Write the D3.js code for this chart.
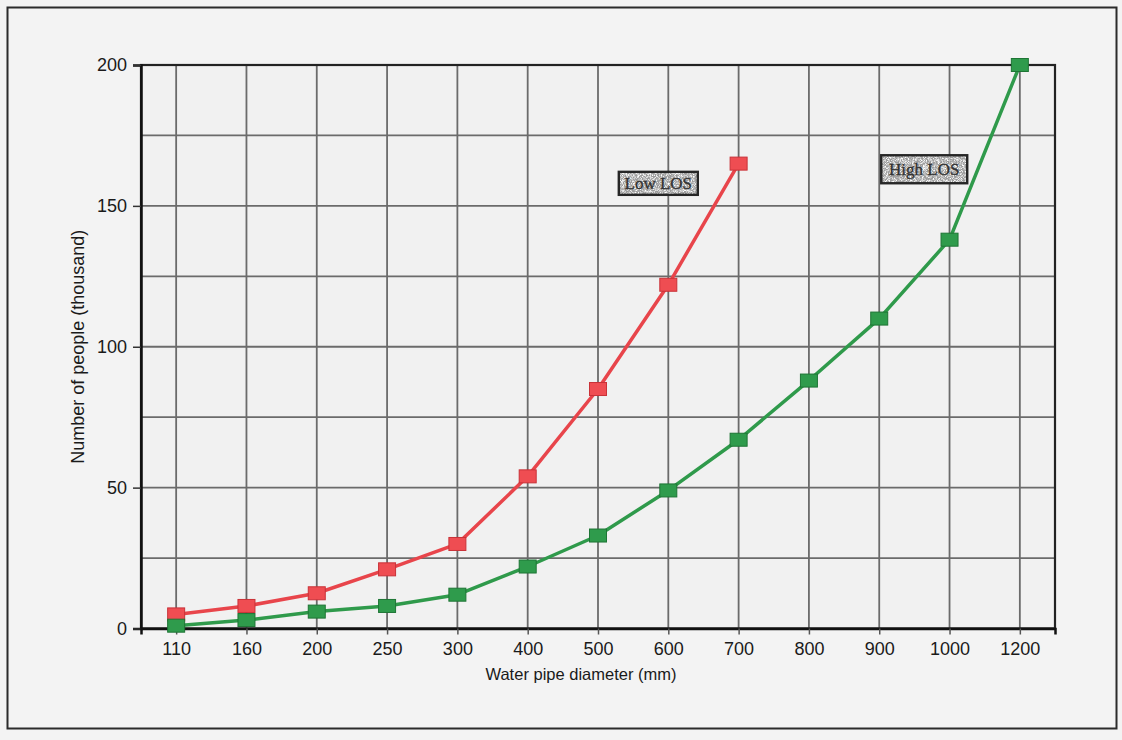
<!DOCTYPE html>
<html>
<head>
<meta charset="utf-8">
<script src="https://cdn.jsdelivr.net/npm/d3@7"></script>
<style>
  html, body { margin: 0; padding: 0; background: #f3f3f3; }
  svg { display: block; }
</style>
</head>
<body>
<svg id="chart" width="1122" height="740"></svg>
<script>
// ---- data ----
const categories = ["110","160","200","250","300","400","500","600","700","800","900","1000","1200"];
const lowLOS  = [5, 8, 12.5, 21, 30, 54, 85, 122, 165];            // 110 .. 700
const highLOS = [1, 3, 6, 8, 12, 22, 33, 49, 67, 88, 110, 138, 200]; // 110 .. 1200
const yTickLabels = [0, 50, 100, 150, 200];
const yGridValues = [0, 25, 50, 75, 100, 125, 150, 175, 200];
const seriesNames = ["Low LOS", "High LOS"];

const svg = d3.select("#chart");
const W = 1122, H = 740;
const plot = { left: 141, right: 1055, top: 65, bottom: 628.5 };

// background + outer frame
svg.append("rect").attr("x", 0).attr("y", 0).attr("width", W).attr("height", H).attr("fill", "#f3f3f3");
svg.append("rect").attr("x", 7.5).attr("y", 7.5).attr("width", 1109).attr("height", 721)
  .attr("fill", "#f3f3f3").attr("stroke", "#2b2b2b").attr("stroke-width", 2);

const x = d3.scalePoint().domain(categories).range([plot.left, plot.right]).padding(0.5);
const y = d3.scaleLinear().domain([0, 200]).range([plot.bottom, plot.top]);

// plot background
svg.append("rect").attr("x", plot.left).attr("y", plot.top)
  .attr("width", plot.right - plot.left).attr("height", plot.bottom - plot.top)
  .attr("fill", "#f1f1f1");

// grid
const grid = svg.append("g");
grid.selectAll("line.h").data(yGridValues).join("line")
  .attr("x1", plot.left).attr("x2", plot.right)
  .attr("y1", d => y(d)).attr("y2", d => y(d))
  .attr("stroke", "#6b6b6b").attr("stroke-width", 1.8);
grid.selectAll("line.v").data(categories).join("line")
  .attr("x1", d => x(d)).attr("x2", d => x(d))
  .attr("y1", plot.top).attr("y2", plot.bottom)
  .attr("stroke", "#6b6b6b").attr("stroke-width", 1.8);

// plot frame
svg.append("rect").attr("x", plot.left).attr("y", plot.top)
  .attr("width", plot.right - plot.left).attr("height", plot.bottom - plot.top)
  .attr("fill", "none").attr("stroke", "#222").attr("stroke-width", 2.2);

// axes
const fontSans = "'Liberation Sans', Arial, sans-serif";
const yAxis = svg.append("g").attr("transform", `translate(${plot.left},0)`)
  .call(d3.axisLeft(y).tickValues(yTickLabels).tickSize(8).tickPadding(6).tickFormat(d3.format("d")));
yAxis.select(".domain").attr("stroke", "#111").attr("stroke-width", 2.5);
yAxis.selectAll(".tick line").attr("stroke", "#333").attr("stroke-width", 1.5);
yAxis.selectAll(".tick text").attr("font-family", fontSans).attr("font-size", 18).attr("fill", "#1a1a1a");

const xAxis = svg.append("g").attr("transform", `translate(0,${plot.bottom})`)
  .call(d3.axisBottom(x).tickSize(6).tickPadding(8));
xAxis.select(".domain").attr("stroke", "#111").attr("stroke-width", 2.5);
xAxis.selectAll(".tick line").attr("stroke", "#555").attr("stroke-width", 1.5);
xAxis.selectAll(".tick text").attr("font-family", fontSans).attr("font-size", 18).attr("fill", "#1a1a1a");

// axis titles
svg.append("text").attr("x", 581).attr("y", 680).attr("text-anchor", "middle")
  .attr("font-family", fontSans).attr("font-size", 16.5).attr("fill", "#1a1a1a")
  .text("Water pipe diameter (mm)");
svg.append("text").attr("transform", `translate(84,${(plot.top + plot.bottom) / 2}) rotate(-90)`)
  .attr("text-anchor", "middle")
  .attr("font-family", fontSans).attr("font-size", 18).attr("fill", "#1a1a1a")
  .text("Number of people (thousand)");

// series
const series = [
  { name: seriesNames[0], values: lowLOS,  line: "#e8454b", fill: "#ef4d52", edge: "#c93238" },
  { name: seriesNames[1], values: highLOS, line: "#2f9a4b", fill: "#2f9b4c", edge: "#1e7535" }
];
const line = d3.line().x((d, i) => x(categories[i])).y(d => y(d));
series.forEach(s => {
  svg.append("path").datum(s.values).attr("d", line)
    .attr("fill", "none").attr("stroke", s.line).attr("stroke-width", 3.5).attr("stroke-linejoin", "round");
  svg.append("g").selectAll("rect").data(s.values).join("rect")
    .attr("x", (d, i) => x(categories[i]) - 8.5).attr("y", d => y(d) - 6.5)
    .attr("width", 17).attr("height", 13)
    .attr("fill", s.fill).attr("stroke", s.edge).attr("stroke-width", 1);
});

// labels (stippled grey boxes)
const defs = svg.append("defs");
const f = defs.append("filter").attr("id", "noise").attr("x", 0).attr("y", 0).attr("width", 1).attr("height", 1);
f.append("feTurbulence").attr("type", "fractalNoise").attr("baseFrequency", 1.4).attr("numOctaves", 2).attr("seed", 3).attr("result", "t");
f.append("feColorMatrix").attr("type", "matrix")
  .attr("values", "0 0 0 0 1  0 0 0 0 1  0 0 0 0 1  3 0 0 0 -1.2");

function labelBox(text, cx, cy, w, h) {
  const g = svg.append("g");
  g.append("rect").attr("x", cx - w / 2).attr("y", cy - h / 2).attr("width", w).attr("height", h)
    .attr("fill", "#9c9c9c");
  g.append("rect").attr("x", cx - w / 2).attr("y", cy - h / 2).attr("width", w).attr("height", h)
    .attr("fill", "#fff").attr("filter", "url(#noise)");
  g.append("rect").attr("x", cx - w / 2).attr("y", cy - h / 2).attr("width", w).attr("height", h)
    .attr("fill", "none").attr("stroke", "#262626").attr("stroke-width", 2.4);
  g.append("text").attr("x", cx).attr("y", cy + 5.5).attr("text-anchor", "middle")
    .attr("font-family", "'Liberation Serif', 'Times New Roman', serif").attr("font-size", 17)
    .attr("fill", "#333").attr("stroke", "#333").attr("stroke-width", 0.3).text(text);
}
labelBox(seriesNames[0], x("600") - 10, y(158), 79, 23);
labelBox(seriesNames[1], x("900") + 45, y(163), 86, 28);
</script>
</body>
</html>
